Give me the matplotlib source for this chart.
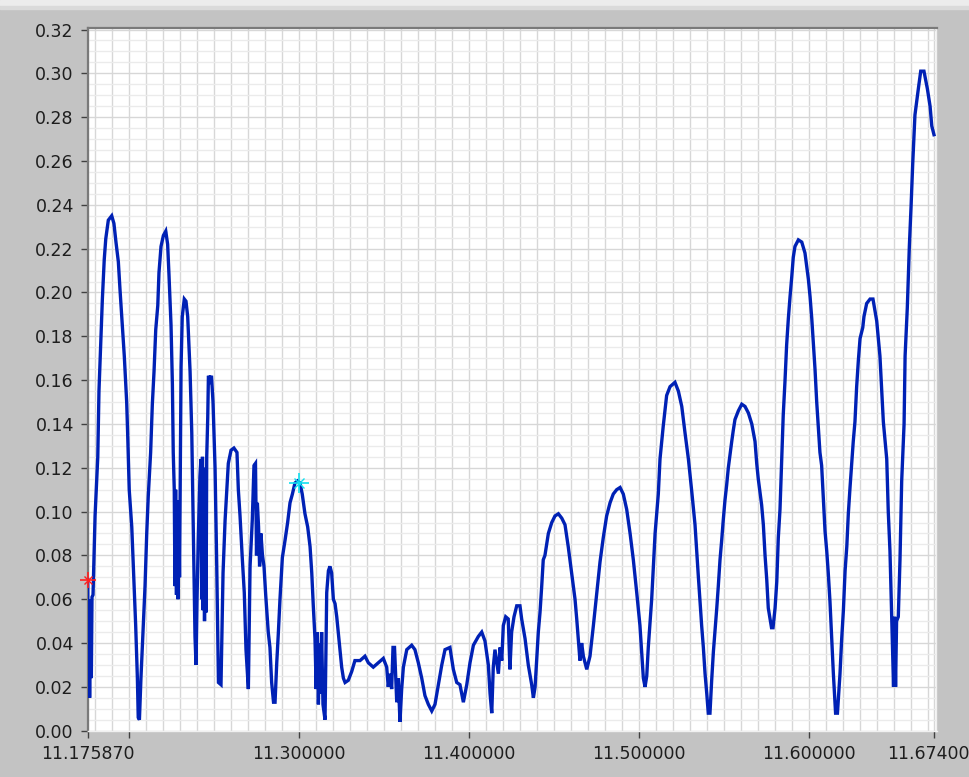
import matplotlib
matplotlib.use("Agg")
import matplotlib.pyplot as plt
from matplotlib.patches import Rectangle
from matplotlib.ticker import MultipleLocator, FormatStrFormatter

# %% data
freq = [
    11.1759, 11.1762, 11.1766, 11.1770, 11.1775, 11.1780, 11.1784, 11.1790, 11.1802, 11.1818,
    11.1825, 11.1835, 11.1845, 11.1856, 11.1865, 11.1880, 11.1900, 11.1913, 11.1925, 11.1939,
    11.1949, 11.1962, 11.1974, 11.1988, 11.1994, 11.2003, 11.2018, 11.2031, 11.2041, 11.2051,
    11.2056, 11.2063, 11.2072, 11.2086, 11.2096, 11.2106, 11.2115, 11.2129, 11.2139, 11.2149,
    11.2159, 11.2171, 11.2178, 11.2190, 11.2204, 11.2218, 11.2229, 11.2237, 11.2249, 11.2257,
    11.2262, 11.2268, 11.2272, 11.2276, 11.2281, 11.2286, 11.2290, 11.2295, 11.2299, 11.2308,
    11.2315, 11.2327, 11.2337, 11.2347, 11.2361, 11.2371, 11.2380, 11.2390, 11.2396, 11.2402,
    11.2409, 11.2419, 11.2425, 11.2429, 11.2434, 11.2438, 11.2442, 11.2446, 11.2450, 11.2455,
    11.2459, 11.2465, 11.2469, 11.2478, 11.2487, 11.2496, 11.2508, 11.2518, 11.2528, 11.2543,
    11.2555, 11.2567, 11.2577, 11.2586, 11.2602, 11.2619, 11.2637, 11.2645, 11.2655, 11.2668,
    11.2680, 11.2690, 11.2704, 11.2714, 11.2727, 11.2737, 11.2746, 11.2752, 11.2757, 11.2764,
    11.2770, 11.2778, 11.2787, 11.2796, 11.2806, 11.2821, 11.2831, 11.2841, 11.2852, 11.2861,
    11.2871, 11.2880, 11.2890, 11.2904, 11.2920, 11.2935, 11.2949, 11.2963, 11.2978, 11.2993,
    11.3008, 11.3021, 11.3037, 11.3053, 11.3067, 11.3077, 11.3086, 11.3096, 11.3103, 11.3110,
    11.3116, 11.3123, 11.3129, 11.3135, 11.3143, 11.3155, 11.3165, 11.3175, 11.3184, 11.3194,
    11.3204, 11.3214, 11.3224, 11.3233, 11.3243, 11.3253, 11.3263, 11.3273, 11.3292, 11.3312,
    11.3331, 11.3361, 11.3390, 11.3410, 11.3439, 11.3469, 11.3498, 11.3518, 11.3527, 11.3537,
    11.3547, 11.3555, 11.3564, 11.3577, 11.3586, 11.3596, 11.3606, 11.3616, 11.3636, 11.3665,
    11.3684, 11.3704, 11.3724, 11.3743, 11.3763, 11.3783, 11.3802, 11.3822, 11.3842, 11.3861,
    11.3890, 11.3910, 11.3930, 11.3949, 11.3969, 11.3989, 11.4008, 11.4028, 11.4057, 11.4077,
    11.4096, 11.4116, 11.4126, 11.4136, 11.4145, 11.4155, 11.4175, 11.4185, 11.4195, 11.4204,
    11.4218, 11.4233, 11.4243, 11.4253, 11.4267, 11.4283, 11.4302, 11.4312, 11.4332, 11.4351,
    11.4371, 11.4381, 11.4391, 11.4410, 11.4420, 11.4430, 11.4439, 11.4449, 11.4459, 11.4469,
    11.4489, 11.4508, 11.4528, 11.4548, 11.4567, 11.4586, 11.4606, 11.4626, 11.4636, 11.4645,
    11.4655, 11.4665, 11.4675, 11.4695, 11.4714, 11.4734, 11.4754, 11.4773, 11.4792, 11.4812,
    11.4832, 11.4851, 11.4871, 11.4891, 11.4910, 11.4930, 11.4950, 11.4969, 11.4989, 11.5008,
    11.5018, 11.5028, 11.5038, 11.5048, 11.5057, 11.5077, 11.5097, 11.5116, 11.5126, 11.5145,
    11.5165, 11.5185, 11.5214, 11.5234, 11.5254, 11.5273, 11.5293, 11.5313, 11.5332, 11.5351,
    11.5371, 11.5381, 11.5391, 11.5401, 11.5410, 11.5420, 11.5430, 11.5440, 11.5450, 11.5460,
    11.5469, 11.5479, 11.5489, 11.5498, 11.5508, 11.5518, 11.5528, 11.5538, 11.5548, 11.5557,
    11.5567, 11.5587, 11.5607, 11.5626, 11.5646, 11.5666, 11.5685, 11.5695, 11.5704, 11.5724,
    11.5734, 11.5744, 11.5754, 11.5763, 11.5782, 11.5791, 11.5803, 11.5813, 11.5822, 11.5832,
    11.5842, 11.5851, 11.5861, 11.5871, 11.5881, 11.5891, 11.5901, 11.5910, 11.5920, 11.5940,
    11.5960, 11.5979, 11.5999, 11.6009, 11.6019, 11.6028, 11.6038, 11.6048, 11.6057, 11.6067,
    11.6077, 11.6087, 11.6097, 11.6107, 11.6116, 11.6126, 11.6136, 11.6146, 11.6159, 11.6170,
    11.6185, 11.6195, 11.6205, 11.6215, 11.6225, 11.6234, 11.6244, 11.6254, 11.6263, 11.6273,
    11.6283, 11.6293, 11.6303, 11.6319, 11.6326, 11.6342, 11.6362, 11.6379, 11.6401, 11.6420,
    11.6440, 11.6460, 11.6469, 11.6479, 11.6489, 11.6500, 11.6506, 11.6512, 11.6518, 11.6528,
    11.6538, 11.6548, 11.6562, 11.6568, 11.6581, 11.6593, 11.6603, 11.6613, 11.6626, 11.6646,
    11.6660, 11.6679, 11.6699, 11.6715, 11.6725, 11.6738,
]

amp = [
    0.069, 0.020, 0.058, 0.015, 0.060, 0.024, 0.061, 0.062, 0.098, 0.125,
    0.155, 0.176, 0.197, 0.215, 0.2245, 0.233, 0.235, 0.2315, 0.223, 0.214,
    0.201, 0.185, 0.171, 0.150, 0.135, 0.110, 0.093, 0.068, 0.048, 0.024,
    0.006, 0.005, 0.024, 0.048, 0.066, 0.090, 0.107, 0.127, 0.149, 0.164,
    0.183, 0.194, 0.209, 0.221, 0.226, 0.228, 0.222, 0.208, 0.185, 0.158,
    0.127, 0.110, 0.066, 0.110, 0.062, 0.105, 0.060, 0.100, 0.070, 0.166,
    0.189, 0.197, 0.196, 0.189, 0.164, 0.136, 0.093, 0.043, 0.030, 0.060,
    0.087, 0.116, 0.124, 0.060, 0.125, 0.055, 0.120, 0.050, 0.112, 0.054,
    0.125, 0.143, 0.162, 0.160, 0.162, 0.150, 0.120, 0.075, 0.022, 0.021,
    0.072, 0.096, 0.110, 0.122, 0.128, 0.129, 0.127, 0.110, 0.098, 0.079,
    0.063, 0.037, 0.019, 0.075, 0.096, 0.121, 0.122, 0.080, 0.104, 0.093,
    0.075, 0.090, 0.080, 0.075, 0.062, 0.045, 0.038, 0.022, 0.013, 0.013,
    0.031, 0.044, 0.060, 0.079, 0.087, 0.095, 0.104, 0.108, 0.113, 0.114,
    0.113, 0.108, 0.099, 0.093, 0.084, 0.072, 0.057, 0.042, 0.019, 0.045,
    0.012, 0.040, 0.017, 0.045, 0.012, 0.005, 0.063, 0.073, 0.075, 0.072,
    0.060, 0.058, 0.052, 0.045, 0.037, 0.029, 0.024, 0.022, 0.023, 0.027,
    0.032, 0.032, 0.034, 0.031, 0.029, 0.031, 0.033, 0.029, 0.020, 0.026,
    0.019, 0.038, 0.038, 0.013, 0.024, 0.004, 0.019, 0.029, 0.037, 0.039,
    0.037, 0.031, 0.024, 0.016, 0.012, 0.009, 0.012, 0.021, 0.030, 0.037,
    0.038, 0.028, 0.022, 0.021, 0.013, 0.021, 0.031, 0.039, 0.043, 0.045,
    0.041, 0.030, 0.017, 0.008, 0.029, 0.037, 0.026, 0.038, 0.032, 0.048,
    0.052, 0.051, 0.028, 0.045, 0.052, 0.057, 0.057, 0.051, 0.042, 0.030,
    0.021, 0.015, 0.020, 0.045, 0.054, 0.066, 0.078, 0.080, 0.085, 0.090,
    0.095, 0.098, 0.099, 0.097, 0.094, 0.084, 0.072, 0.060, 0.051, 0.042,
    0.032, 0.040, 0.034, 0.028, 0.034, 0.048, 0.063, 0.077, 0.088, 0.098,
    0.104, 0.108, 0.110, 0.111, 0.108, 0.101, 0.090, 0.078, 0.063, 0.048,
    0.036, 0.024, 0.020, 0.025, 0.038, 0.060, 0.090, 0.108, 0.124, 0.139,
    0.153, 0.157, 0.159, 0.155, 0.148, 0.136, 0.124, 0.109, 0.094, 0.071,
    0.048, 0.038, 0.026, 0.017, 0.008, 0.008, 0.023, 0.036, 0.046, 0.056,
    0.066, 0.078, 0.087, 0.096, 0.105, 0.112, 0.120, 0.126, 0.132, 0.137,
    0.142, 0.146, 0.149, 0.148, 0.145, 0.140, 0.132, 0.122, 0.115, 0.103,
    0.094, 0.080, 0.069, 0.056, 0.047, 0.047, 0.056, 0.068, 0.088, 0.101,
    0.124, 0.144, 0.159, 0.176, 0.188, 0.198, 0.207, 0.216, 0.221, 0.224,
    0.223, 0.218, 0.206, 0.198, 0.188, 0.177, 0.165, 0.150, 0.139, 0.127,
    0.121, 0.106, 0.091, 0.082, 0.072, 0.059, 0.042, 0.026, 0.008, 0.008,
    0.026, 0.042, 0.055, 0.073, 0.084, 0.099, 0.111, 0.122, 0.132, 0.141,
    0.157, 0.169, 0.179, 0.184, 0.189, 0.195, 0.197, 0.197, 0.187, 0.171,
    0.141, 0.124, 0.100, 0.082, 0.052, 0.020, 0.052, 0.020, 0.050, 0.052,
    0.078, 0.114, 0.140, 0.171, 0.193, 0.221, 0.239, 0.259, 0.281, 0.293,
    0.301, 0.301, 0.293, 0.285, 0.276, 0.272,
]

# cursors (frequency, amplitude)
cursor_red = (11.17587, 0.069)
cursor_cyan = (11.3, 0.113)

xticks = [11.17587, 11.2, 11.3, 11.4, 11.5, 11.6, 11.674]
xtick_labels = ["11.175870", "", "11.300000", "11.400000", "11.500000", "11.600000", "11.674000"]

# %% figure
bg = "#c3c3c3"
fig = plt.figure(figsize=(9.70, 7.77), dpi=100, facecolor=bg)
fig.patches.append(Rectangle((0, 1 - 5 / 777), 1, 5 / 777, transform=fig.transFigure,
                             color="#ececec", zorder=0))
fig.patches.append(Rectangle((0, 1 - 9 / 777), 1, 3 / 777, transform=fig.transFigure,
                             color="#dadada", zorder=0))

ax = fig.add_axes([87.7 / 970, 46.3 / 777, (936.5 - 87.7) / 970, (749 - 46.3) / 777 - 0.0])
ax.set_position([87.7 / 970, 46.3 / 777, (936.5 - 87.7) / 970, (777 - 28 - 46.3) / 777])
ax.set_facecolor("white")

ax.plot(freq, amp, color="#0021b5", lw=2.4, solid_joinstyle="miter", zorder=3)

# cursors
ax.plot(*cursor_red, marker="+", ms=12, mew=1.2, color="#ff2020", zorder=4, clip_on=False)
ax.plot(*cursor_red, marker="x", ms=6, mew=1.0, color="#ff2020", zorder=4, clip_on=False)
ax.plot(*cursor_cyan, marker="+", ms=14, mew=1.2, color="#10e0f0", zorder=4)
ax.plot(*cursor_cyan, marker="x", ms=7, mew=1.0, color="#10e0f0", zorder=4)

ax.set_xlim(11.17587, 11.67528)
ax.set_ylim(0, 0.3207)

ax.set_xticks(xticks)
ax.set_xticklabels(xtick_labels)
ax.xaxis.set_minor_locator(MultipleLocator(0.01))
ax.yaxis.set_major_locator(MultipleLocator(0.02))
ax.yaxis.set_minor_locator(MultipleLocator(0.005))
ax.yaxis.set_major_formatter(FormatStrFormatter("%.2f"))

ax.xaxis.grid(True, which="both", color="#d7d7d7", lw=1.0)
ax.yaxis.grid(True, which="major", color="#d7d7d7", lw=1.0)
ax.yaxis.grid(True, which="minor", color="#ebebeb", lw=1.0)
ax.set_axisbelow(True)

ax.tick_params(which="major", direction="out", length=5, width=1.0, color="#404040",
               labelsize=12.5, labelcolor="#1e1e1e", pad=5)
ax.tick_params(which="minor", length=0)

for side in ["left", "top"]:
    ax.spines[side].set_color("#7a7a7a")
    ax.spines[side].set_linewidth(1.6)
for side in ["right", "bottom"]:
    ax.spines[side].set_color("#f0f0f0")
    ax.spines[side].set_linewidth(1.0)

fig.savefig("out.png", dpi=100, facecolor=bg)
